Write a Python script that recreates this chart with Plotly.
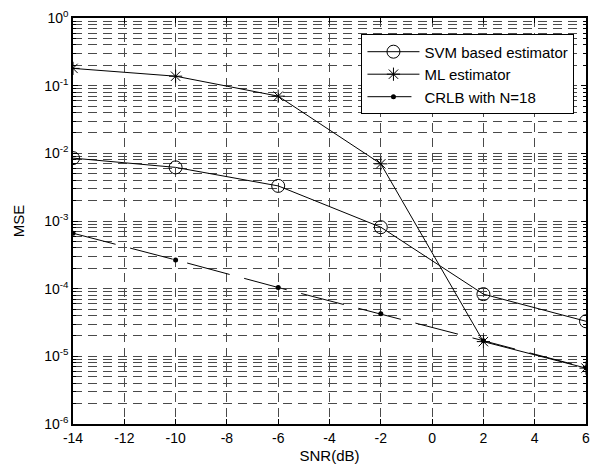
import plotly.graph_objects as go

snr = [-14, -10, -6, -2, 2, 6]
svm_mse = [8.5e-3, 6.2e-3, 3.3e-3, 8.1e-4, 8.3e-5, 3.3e-5]
ml_mse = [0.18, 0.138, 0.07, 7.0e-3, 1.65e-5, 6.7e-6]
crlb_mse = [6.6e-4, 2.66e-4, 1.04e-4, 4.25e-5, 1.7e-5, 6.8e-6]

x_ticks = [-14, -12, -10, -8, -6, -4, -2, 0, 2, 4, 6]
x_ticklabels = ["-14", "-12", "-10", "-8", "-6", "-4", "-2", "0", "2", "4", "6"]
y_ticks = [1e-6, 1e-5, 1e-4, 1e-3, 1e-2, 1e-1, 1e0]
y_ticklabels = ["10<sup>-6</sup>", "10<sup>-5</sup>", "10<sup>-4</sup>", "10<sup>-3</sup>",
                "10<sup>-2</sup>", "10<sup>-1</sup>", "10<sup>0</sup>"]

FONT = "Liberation Sans, Arial, sans-serif"
GRID = "#4a4a4a"

fig = go.Figure()
fig.add_trace(go.Scatter(
    x=snr, y=svm_mse, mode="lines+markers", name="SVM based estimator",
    line=dict(color="black", width=1),
    marker=dict(symbol="circle-open", size=13, color="black", line=dict(width=1, color="black")),
))
fig.add_trace(go.Scatter(
    x=snr, y=ml_mse, mode="lines+markers", name="ML estimator",
    line=dict(color="black", width=1),
    marker=dict(symbol="asterisk-open", size=11, color="black", line=dict(width=1, color="black")),
))
fig.add_trace(go.Scatter(
    x=snr, y=crlb_mse, mode="lines+markers", name="CRLB with N=18",
    line=dict(color="black", width=1, dash="44px,15px"),
    marker=dict(symbol="circle", size=5, color="black"),
))

fig.update_layout(
    width=596, height=471,
    margin=dict(l=73, r=6, t=18, b=47),
    paper_bgcolor="white", plot_bgcolor="white",
    font=dict(family=FONT, size=14, color="black"),
    showlegend=True,
    legend=dict(
        x=0.9775, y=0.9595, xanchor="right", yanchor="top",
        bgcolor="white", bordercolor="black", borderwidth=1,
        font=dict(family=FONT, size=15, color="black"),
        tracegroupgap=0, itemwidth=52,
    ),
)

fig.update_xaxes(
    range=[-14, 6], tickvals=x_ticks, ticktext=x_ticklabels,
    showgrid=True, gridcolor=GRID, griddash="9px,6px", gridwidth=1,
    zeroline=False,
    showline=True, linecolor="black", linewidth=1.5, mirror="ticks",
    ticks="inside", ticklen=5, tickcolor="black",
    tickfont=dict(family=FONT, size=14, color="black"),
    title=dict(text="SNR(dB)", font=dict(family=FONT, size=15, color="black"), standoff=6),
)
fig.update_yaxes(
    type="log", range=[-6, 0], tickvals=y_ticks, ticktext=y_ticklabels,
    showgrid=True, gridcolor=GRID, griddash="9px,6px", gridwidth=1,
    zeroline=False,
    showline=True, linecolor="black", linewidth=1.5, mirror="ticks",
    ticks="inside", ticklen=5, tickcolor="black",
    tickfont=dict(family=FONT, size=14, color="black"),
    minor=dict(dtick="D1", showgrid=True, gridcolor=GRID, griddash="9px,6px", gridwidth=1,
               ticks="inside", ticklen=3, tickcolor="black"),
    title=dict(text="MSE", font=dict(family=FONT, size=15, color="black"), standoff=16),
)

fig.write_html("out.html")
